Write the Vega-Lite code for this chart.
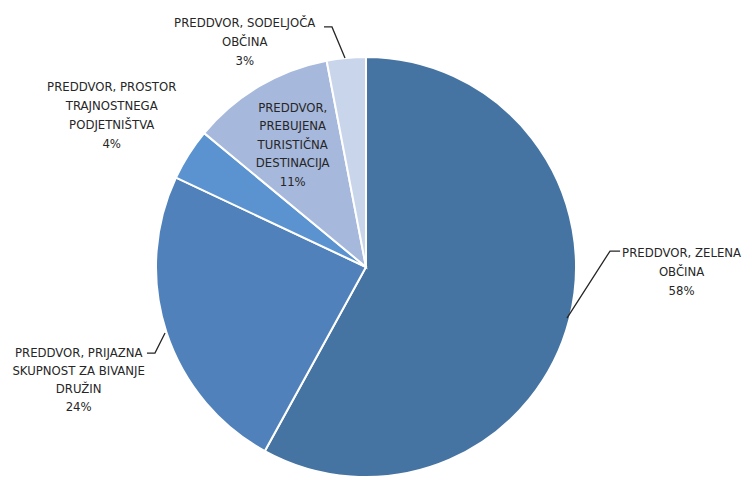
{
  "$schema": "https://vega.github.io/schema/vega-lite/v6.json",
  "width": 732,
  "height": 420,
  "autosize": {"type": "none"},
  "padding": {"left": 0, "top": 57, "right": 12, "bottom": 0},
  "background": "white",
  "config": {"view": {"stroke": null}, "font": "Liberation Sans Narrow, DejaVu Sans Condensed, Arial Narrow, Liberation Sans, sans-serif"},
  "datasets": {
    "slices": [
      {"i": 1, "k": "zelena", "value": 58, "label": "PREDDVOR, ZELENA\nOBČINA\n58%"},
      {"i": 2, "k": "prijazna", "value": 24, "label": "PREDDVOR, PRIJAZNA\nSKUPNOST ZA BIVANJE\nDRUŽIN\n24%"},
      {"i": 3, "k": "prostor", "value": 4, "label": "PREDDVOR, PROSTOR\nTRAJNOSTNEGA\nPODJETNIŠTVA\n4%"},
      {"i": 4, "k": "prebujena", "value": 11, "label": "PREDDVOR,\nPREBUJENA\nTURISTIČNA\nDESTINACIJA\n11%"},
      {"i": 5, "k": "sodelujoca", "value": 3, "label": "PREDDVOR, SODELJOČA\nOBČINA\n3%"}
    ],
    "leaders": [
      {"k": "zelena", "o": 1, "x": 0.957, "y": -0.243},
      {"k": "zelena", "o": 2, "x": 1.162, "y": 0.076},
      {"k": "zelena", "o": 3, "x": 1.21, "y": 0.076},
      {"k": "prijazna", "o": 1, "x": -0.957, "y": -0.314},
      {"k": "prijazna", "o": 2, "x": -1.005, "y": -0.41},
      {"k": "prijazna", "o": 3, "x": -1.043, "y": -0.41},
      {"k": "sodelujoca", "o": 1, "x": -0.1, "y": 0.995},
      {"k": "sodelujoca", "o": 2, "x": -0.162, "y": 1.143},
      {"k": "sodelujoca", "o": 3, "x": -0.2, "y": 1.143}
    ]
  },
  "layer": [
    {
      "data": {"name": "slices"},
      "mark": {"type": "arc", "outerRadius": 210, "stroke": "white", "strokeWidth": 2},
      "encoding": {
        "theta": {"field": "value", "type": "quantitative", "stack": true},
        "order": {"field": "i", "type": "quantitative"},
        "color": {
          "field": "k", "type": "nominal", "legend": null,
          "scale": {
            "domain": ["zelena", "prijazna", "prostor", "prebujena", "sodelujoca"],
            "range": ["#4674A2", "#5081BA", "#5A93D0", "#A6B8DB", "#C9D5EA"]
          }
        }
      }
    },
    {
      "data": {"name": "slices"},
      "mark": {"type": "text", "radius": 300, "dx": 25, "dy": -89, "align": "center", "baseline": "middle", "lineBreak": "\n", "lineHeight": 19, "fontSize": 13, "fill": "#262626"},
      "encoding": {
        "theta": {"field": "value", "type": "quantitative", "stack": true},
        "order": {"field": "i", "type": "quantitative"},
        "detail": {"field": "k"},
        "text": {"condition": {"test": "datum.k === 'zelena'", "field": "label"}, "value": ""}
      }
    },
    {
      "data": {"name": "slices"},
      "mark": {"type": "text", "radius": 300, "dx": -2, "dy": -7, "align": "center", "baseline": "middle", "lineBreak": "\n", "lineHeight": 18, "fontSize": 13, "fill": "#262626"},
      "encoding": {
        "theta": {"field": "value", "type": "quantitative", "stack": true},
        "order": {"field": "i", "type": "quantitative"},
        "detail": {"field": "k"},
        "text": {"condition": {"test": "datum.k === 'prijazna'", "field": "label"}, "value": ""}
      }
    },
    {
      "data": {"name": "slices"},
      "mark": {"type": "text", "radius": 300, "dx": -1, "dy": -19, "align": "center", "baseline": "middle", "lineBreak": "\n", "lineHeight": 19, "fontSize": 13, "fill": "#262626"},
      "encoding": {
        "theta": {"field": "value", "type": "quantitative", "stack": true},
        "order": {"field": "i", "type": "quantitative"},
        "detail": {"field": "k"},
        "text": {"condition": {"test": "datum.k === 'prostor'", "field": "label"}, "value": ""}
      }
    },
    {
      "data": {"name": "slices"},
      "mark": {"type": "text", "radius": 142, "dx": -1, "dy": -37, "align": "center", "baseline": "middle", "lineBreak": "\n", "lineHeight": 18.5, "fontSize": 13, "fill": "#262626"},
      "encoding": {
        "theta": {"field": "value", "type": "quantitative", "stack": true},
        "order": {"field": "i", "type": "quantitative"},
        "detail": {"field": "k"},
        "text": {"condition": {"test": "datum.k === 'prebujena'", "field": "label"}, "value": ""}
      }
    },
    {
      "data": {"name": "slices"},
      "mark": {"type": "text", "radius": 226, "dx": -100, "dy": -19, "align": "center", "baseline": "middle", "lineBreak": "\n", "lineHeight": 19, "fontSize": 13, "fill": "#262626"},
      "encoding": {
        "theta": {"field": "value", "type": "quantitative", "stack": true},
        "order": {"field": "i", "type": "quantitative"},
        "detail": {"field": "k"},
        "text": {"condition": {"test": "datum.k === 'sodelujoca'", "field": "label"}, "value": ""}
      }
    },
    {
      "data": {"name": "leaders"},
      "mark": {"type": "line", "color": "#262626", "strokeWidth": 1.3, "clip": false},
      "encoding": {
        "x": {"field": "x", "type": "quantitative", "scale": {"domain": [-1.742857, 1.742857], "nice": false, "zero": false}, "axis": null},
        "y": {"field": "y", "type": "quantitative", "scale": {"domain": [-1, 1], "nice": false, "zero": false}, "axis": null},
        "detail": {"field": "k"},
        "order": {"field": "o", "type": "quantitative"}
      }
    }
  ]
}
